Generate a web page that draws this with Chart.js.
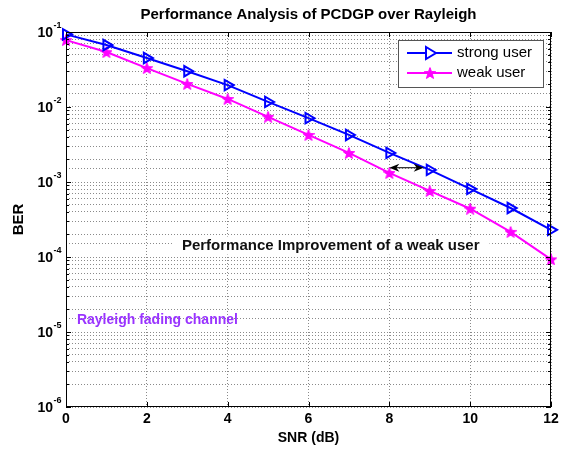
<!DOCTYPE html>
<html>
<head>
<meta charset="utf-8">
<script src="https://cdn.jsdelivr.net/npm/chart.js@4/dist/chart.umd.min.js"></script>
<style>
html,body{margin:0;padding:0;background:#fff;}
#wrap{width:563px;height:450px;position:relative;}
</style>
</head>
<body>
<div id="wrap"><canvas id="c" width="563" height="450"></canvas></div>
<script>
const snr = [0,1,2,3,4,5,6,7,8,9,10,11,12];
const strongUser = [0.093,0.067,0.045,0.030,0.0196,0.0117,0.0071,0.00424,0.00244,0.00145,0.00081,0.00045,0.00023];
const weakUser   = [0.078,0.054,0.033,0.0203,0.0128,0.0074,0.00424,0.00244,0.00132,0.00076,0.00044,0.000216,0.000093];
const xTicks = [0,2,4,6,8,10,12];
const yDecades = [-6,-5,-4,-3,-2,-1];
const seriesNames = ['strong user','weak user'];
const titleText = 'Performance Analysis of PCDGP over Rayleigh';
const xLabel = 'SNR (dB)';
const yLabel = 'BER';
const note1 = 'Performance Improvement of a weak user';
const note2 = 'Rayleigh fading channel';

const FONT = 'Arial, "Liberation Sans", sans-serif';
const NOTE1_X = 6.55, NOTE1_Y = 0.000142;

// filled pentagram marker
function makeStar(size, color){
  const cv = document.createElement('canvas');
  cv.width = size; cv.height = size;
  const g = cv.getContext('2d');
  const cx = size/2, cy = size/2, R = size/2, r = R*0.42;
  g.beginPath();
  for(let i=0;i<10;i++){
    const a = -Math.PI/2 + i*Math.PI/5;
    const rad = i%2===0 ? R : r;
    const px = cx + rad*Math.cos(a), py = cy + rad*Math.sin(a) + R*0.1;
    if(i===0) g.moveTo(px,py); else g.lineTo(px,py);
  }
  g.closePath();
  g.fillStyle = color; g.fill();
  g.strokeStyle = color; g.lineWidth = 1; g.stroke();
  return cv;
}
const starImg = makeStar(12, '#ff00ff');

const decoPlugin = {
  id: 'deco',
  beforeDatasetsDraw(chart){
    const {ctx} = chart;
    const xs = chart.scales.x, ys = chart.scales.y;
    ctx.save();
    ctx.font = 'bold 15px ' + FONT;
    const cx = xs.getPixelForValue(NOTE1_X);
    const cy = ys.getPixelForValue(NOTE1_Y);
    const w = ctx.measureText(note1).width;
    ctx.fillStyle = '#fff';
    ctx.fillRect(cx - w/2 - 10, cy - 9, w + 20, 18);
    ctx.restore();
  },
  afterDraw(chart){
    const {ctx, chartArea: a} = chart;
    const xs = chart.scales.x, ys = chart.scales.y;
    ctx.save();
    // box
    ctx.strokeStyle = '#000'; ctx.lineWidth = 1;
    ctx.strokeRect(a.left+0.5, a.top+0.5, a.right-a.left-1, a.bottom-a.top-1);
    // tick marks
    ctx.beginPath();
    xTicks.forEach(v=>{
      const px = Math.round(xs.getPixelForValue(v))+0.5;
      ctx.moveTo(px, a.bottom); ctx.lineTo(px, a.bottom-5);
      ctx.moveTo(px, a.top); ctx.lineTo(px, a.top+5);
    });
    yDecades.forEach(d=>{
      for(let m=1;m<=9;m++){
        if(d===-1 && m>1) break;
        const py = Math.round(ys.getPixelForValue(m*Math.pow(10,d)))+0.5;
        const len = m===1 ? 5 : 3;
        ctx.moveTo(a.left, py); ctx.lineTo(a.left+len, py);
        ctx.moveTo(a.right, py); ctx.lineTo(a.right-len, py);
      }
    });
    ctx.stroke();

    ctx.fillStyle = '#000';
    // x tick labels
    ctx.font = 'bold 14px ' + FONT;
    ctx.textAlign = 'center'; ctx.textBaseline = 'middle';
    xTicks.forEach(v=>{
      ctx.fillText(String(v), xs.getPixelForValue(v), a.bottom + 12);
    });
    // y tick labels with superscripts
    yDecades.forEach(d=>{
      const py = ys.getPixelForValue(Math.pow(10,d));
      ctx.font = 'bold 14px ' + FONT;
      ctx.textAlign = 'right'; ctx.textBaseline = 'middle';
      ctx.fillText('10', a.left - 13, py + 1);
      ctx.font = 'bold 9px ' + FONT;
      ctx.textAlign = 'left';
      ctx.fillText(String(d), a.left - 12.5, py - 6);
    });
    // title
    ctx.font = 'bold 15px ' + FONT;
    ctx.textAlign = 'center'; ctx.textBaseline = 'middle';
    ctx.fillText(titleText, (a.left+a.right)/2, 15);
    // axis labels
    ctx.font = 'bold 14px ' + FONT;
    ctx.fillText(xLabel, (a.left+a.right)/2, 438);
    ctx.save();
    ctx.translate(19, (a.top+a.bottom)/2);
    ctx.rotate(-Math.PI/2);
    ctx.font = 'bold 15px ' + FONT;
    ctx.fillText(yLabel, 0, 0);
    ctx.restore();

    // annotation 1
    ctx.font = 'bold 15px ' + FONT;
    ctx.fillStyle = '#111';
    ctx.fillText(note1, xs.getPixelForValue(NOTE1_X), ys.getPixelForValue(NOTE1_Y));
    // annotation 2
    ctx.font = 'bold 14px ' + FONT;
    ctx.fillStyle = '#9933ff';
    ctx.textAlign = 'left';
    ctx.fillText(note2, xs.getPixelForValue(0.27), ys.getPixelForValue(0.0000142));

    // double arrow
    const ax1 = xs.getPixelForValue(8.0), ax2 = xs.getPixelForValue(8.85);
    const ay = ys.getPixelForValue(0.00155);
    ctx.strokeStyle = '#000'; ctx.fillStyle = '#000'; ctx.lineWidth = 1;
    ctx.beginPath(); ctx.moveTo(ax1+4, ay); ctx.lineTo(ax2-4, ay); ctx.stroke();
    [[ax1,1],[ax2,-1]].forEach(([tx,dir])=>{
      ctx.beginPath();
      ctx.moveTo(tx, ay);
      ctx.lineTo(tx + dir*10, ay - 4);
      ctx.lineTo(tx + dir*7, ay);
      ctx.lineTo(tx + dir*10, ay + 4);
      ctx.closePath(); ctx.fill();
    });

    // legend
    const lx = 398, ly = 40, lw = 145, lh = 47;
    ctx.fillStyle = '#fff';
    ctx.fillRect(lx, ly, lw, lh);
    ctx.strokeStyle = '#555'; ctx.lineWidth = 1;
    ctx.strokeRect(lx+0.5, ly+0.5, lw, lh);
    const ds = chart.data.datasets;
    [53, 73].forEach((ry, i)=>{
      const d = ds[i];
      ctx.strokeStyle = d.borderColor; ctx.lineWidth = 2;
      ctx.beginPath(); ctx.moveTo(407, ry); ctx.lineTo(452, ry); ctx.stroke();
      if(i===0){
        ctx.save();
        ctx.translate(430, ry);
        ctx.beginPath();
        ctx.moveTo(6, 0); ctx.lineTo(-4, -6); ctx.lineTo(-4, 6); ctx.closePath();
        ctx.fillStyle = '#fff'; ctx.fill();
        ctx.strokeStyle = d.borderColor; ctx.lineWidth = 2; ctx.stroke();
        ctx.restore();
      } else {
        ctx.drawImage(starImg, 430 - starImg.width/2, ry - starImg.height/2);
      }
      ctx.fillStyle = '#000';
      ctx.font = '15px ' + FONT;
      ctx.textAlign = 'left'; ctx.textBaseline = 'middle';
      ctx.fillText(seriesNames[i], 457, ry);
    });
    ctx.restore();
  }
};

new Chart(document.getElementById('c'), {
  type: 'line',
  data: {
    datasets: [
      {
        label: seriesNames[0],
        data: snr.map((x,i)=>({x, y: strongUser[i]})),
        borderColor: '#0000ff',
        backgroundColor: 'rgba(255,255,255,0)',
        borderWidth: 2,
        pointStyle: 'triangle',
        rotation: 90,
        pointRadius: 6,
        pointBorderWidth: 2,
        pointBorderColor: '#0000ff',
        pointBackgroundColor: 'rgba(255,255,255,0)',
        tension: 0,
        clip: false
      },
      {
        label: seriesNames[1],
        data: snr.map((x,i)=>({x, y: weakUser[i]})),
        borderColor: '#ff00ff',
        backgroundColor: '#ff00ff',
        borderWidth: 2,
        pointStyle: starImg,
        pointRadius: 6,
        tension: 0,
        clip: false
      }
    ]
  },
  options: {
    responsive: false,
    animation: false,
    events: [],
    layout: { padding: { left: 66, right: 12, top: 32, bottom: 43 } },
    plugins: { legend: { display: false }, title: { display: false }, tooltip: { enabled: false } },
    scales: {
      x: {
        type: 'linear', min: 0, max: 12,
        ticks: { display: false, stepSize: 2 },
        grid: { color: '#8a8a8a', lineWidth: 1, drawTicks: false },
        border: { display: false, dash: [1, 2] }
      },
      y: {
        type: 'logarithmic', min: 1e-6, max: 1e-1,
        ticks: { display: false },
        grid: { color: '#8a8a8a', lineWidth: 1, drawTicks: false },
        border: { display: false, dash: [1, 2] }
      }
    }
  },
  plugins: [decoPlugin]
});
</script>
</body>
</html>
